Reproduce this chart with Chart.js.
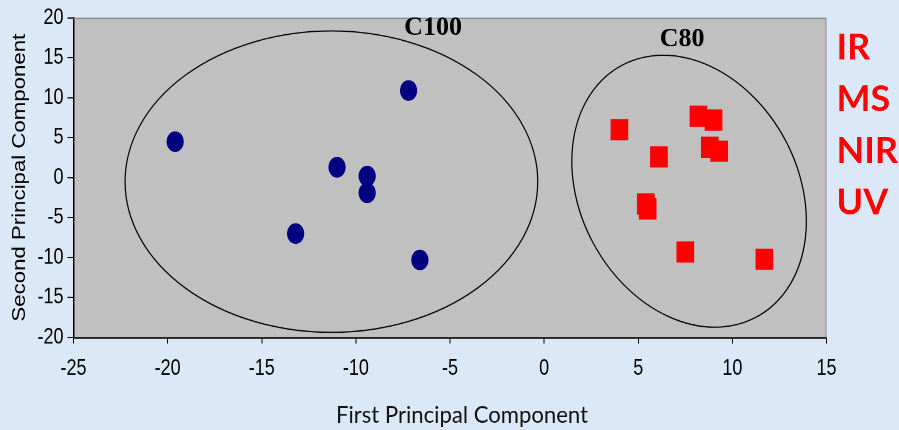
<!DOCTYPE html>
<html>
<head>
<meta charset="utf-8">
<script src="https://cdn.jsdelivr.net/npm/chart.js@4/dist/chart.umd.min.js"></script>
<style>
  html, body { margin: 0; padding: 0; }
  body { width: 899px; height: 430px; overflow: hidden; background: #dbe8f7; }
  #wrap { position: relative; width: 899px; height: 358px; transform: scaleY(1.2011); transform-origin: 0 0; }
</style>
</head>
<body>
<div id="wrap"><canvas id="pca"></canvas></div>
<script>
// source chart is stretched vertically, so we draw at 358px and scale up
const STRETCH = 430 / 358;

const xTicks = [-25, -20, -15, -10, -5, 0, 5, 10, 15];
const yTicks = [-20, -15, -10, -5, 0, 5, 10, 15, 20];

const c100X = [-19.6, -7.2, -11.0, -9.4, -9.4, -13.2, -6.6];
const c100Y = [4.5, 10.9, 1.3, 0.2, -1.9, -7.0, -10.3];

const c80X = [4.0, 8.2, 9.0, 6.1, 8.8, 9.3, 5.4, 5.5, 7.5, 11.7];
const c80Y = [6.0, 7.7, 7.2, 2.6, 3.8, 3.3, -3.3, -3.9, -9.3, -10.2];

// ellipses round each group: centre, half axes (x units, y units), tilt in degrees
const ellipseNames = ['C100', 'C80'];
const ellipseCx = [-11.3, 7.7];
const ellipseCy = [-0.5, -1.7];
const ellipseRx = [10.96, 5.79];
const ellipseRy = [18.85, 17.85];
const ellipseRot = [0, -28];
const labelX = [-5.9, 7.33];
const labelY = [18.7, 17.26];

const techniques = ['IR', 'MS', 'NIR', 'UV'];

const toPoints = (xs, ys) => xs.map((x, i) => ({ x: x, y: ys[i] }));

const overlay = {
    id: 'overlay',
    beforeDraw(chart) {
        const { ctx, chartArea: a } = chart;
        ctx.save();
        ctx.fillStyle = '#c0c0c0';
        ctx.fillRect(a.left, a.top, a.right - a.left, a.bottom - a.top);
        ctx.restore();
    },
    beforeDatasetsDraw(chart) {
        const { ctx } = chart;
        const xs = chart.scales.x, ys = chart.scales.y;
        const pxX = Math.abs(xs.getPixelForValue(1) - xs.getPixelForValue(0));
        const pxY = Math.abs(ys.getPixelForValue(1) - ys.getPixelForValue(0)) * STRETCH;
        ctx.save();
        ctx.scale(1, 1 / STRETCH);
        ctx.strokeStyle = '#000';
        ctx.lineWidth = 1.2;
        ellipseNames.forEach((n, i) => {
            ctx.beginPath();
            ctx.ellipse(xs.getPixelForValue(ellipseCx[i]), ys.getPixelForValue(ellipseCy[i]) * STRETCH,
                ellipseRx[i] * pxX, ellipseRy[i] * pxY, ellipseRot[i] * Math.PI / 180, 0, Math.PI * 2);
            ctx.stroke();
        });
        ctx.restore();
    },
    afterDraw(chart) {
        const { ctx, chartArea: a } = chart;
        const xs = chart.scales.x, ys = chart.scales.y;
        ctx.save();
        // top and right edges of the plot box
        ctx.strokeStyle = '#8a8a8a';
        ctx.lineWidth = 1;
        ctx.beginPath();
        ctx.moveTo(a.left, a.top + 0.5);
        ctx.lineTo(a.right - 0.5, a.top + 0.5);
        ctx.lineTo(a.right - 0.5, a.bottom);
        ctx.stroke();

        ctx.scale(1, 1 / STRETCH);
        ctx.textAlign = 'center';
        ctx.textBaseline = 'middle';
        ctx.fillStyle = '#000';
        ctx.font = 'bold 26px "Liberation Serif", "Times New Roman", serif';
        ellipseNames.forEach((n, i) => {
            ctx.fillText(n, xs.getPixelForValue(labelX[i]), ys.getPixelForValue(labelY[i]) * STRETCH);
        });

        ctx.textAlign = 'left';
        ctx.fillStyle = '#ff0000';
        ctx.font = 'bold 36px Lato, "Noto Sans", sans-serif';
        const top = a.top * STRETCH;
        techniques.forEach((t, i) => {
            ctx.fillText(t, a.right + 10, top + 30 + i * 51.7);
        });

        ctx.textAlign = 'center';
        ctx.textBaseline = 'alphabetic';
        ctx.fillStyle = '#111';
        ctx.font = '23px Lato, "Open Sans", sans-serif';
        ctx.fillText('First Principal Component', (a.left + a.right) / 2 + 12, 423, 252);
        ctx.restore();
    }
};

new Chart(document.getElementById('pca'), {
    type: 'scatter',
    data: {
        datasets: [
            {
                label: 'C100',
                data: toPoints(c100X, c100Y),
                pointStyle: 'circle',
                pointRadius: 8.6,
                pointHoverRadius: 8.6,
                backgroundColor: '#000080',
                borderWidth: 0
            },
            {
                label: 'C80',
                data: toPoints(c80X, c80Y),
                pointStyle: 'rect',
                pointRadius: 12.5,
                pointHoverRadius: 12.5,
                backgroundColor: '#ff0000',
                borderWidth: 0
            }
        ]
    },
    options: {
        responsive: true,
        maintainAspectRatio: false,
        animation: false,
        devicePixelRatio: 2,
        layout: { padding: { left: 0, right: 72.5, top: 14.15, bottom: 0 } },
        plugins: {
            legend: { display: false },
            tooltip: { enabled: false }
        },
        scales: {
            x: {
                type: 'linear',
                min: xTicks[0],
                max: xTicks[xTicks.length - 1],
                afterBuildTicks: (s) => { s.ticks = xTicks.map(v => ({ value: v })); },
                afterFit: (s) => { s.height = 77; },
                grid: { drawOnChartArea: false, tickLength: 5, tickColor: '#000', tickWidth: 1 },
                border: { color: '#222', width: 1.5 },
                ticks: { color: '#000', padding: 10, maxRotation: 0, font: { family: '"Liberation Sans", Arial', size: 18 } }
            },
            y: {
                type: 'linear',
                min: yTicks[0],
                max: yTicks[yTicks.length - 1],
                afterBuildTicks: (s) => { s.ticks = yTicks.map(v => ({ value: v })); },
                afterFit: (s) => { s.width = 73.5; },
                grid: { drawOnChartArea: false, tickLength: 6, tickColor: '#000', tickWidth: 1 },
                border: { color: '#000', width: 1.5 },
                ticks: { color: '#000', padding: 4, font: { family: '"Liberation Sans", Arial', size: 18 } },
                title: {
                    display: true,
                    text: 'Second Principal Component',
                    color: '#000',
                    padding: { top: 9, bottom: 0 },
                    font: { family: '"Liberation Sans", Arial', size: 18.5 }
                }
            }
        }
    },
    plugins: [overlay]
});
</script>
</body>
</html>
